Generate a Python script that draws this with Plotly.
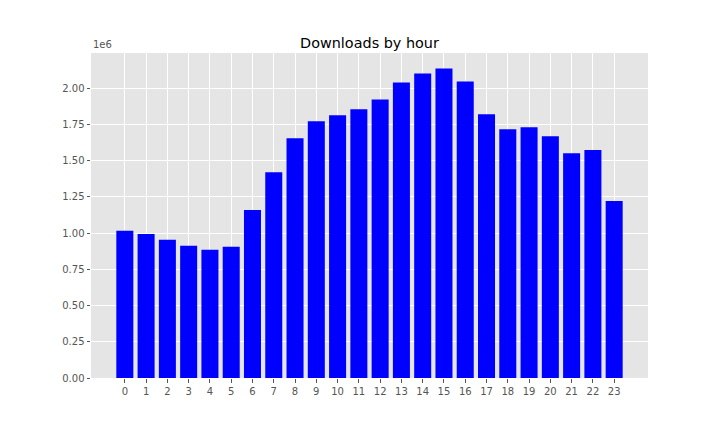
import plotly.graph_objects as go

# downloads per hour of day
hours = list(range(24))
downloads = [1015000, 994000, 953000, 912000, 884000, 905000, 1159000, 1420000,
             1654000, 1771000, 1812000, 1854000, 1922000, 2039000, 2101000, 2135000,
             2046000, 1819000, 1716000, 1730000, 1668000, 1551000, 1572000, 1221000]

y_ticks = [0, 250000, 500000, 750000, 1000000, 1250000, 1500000, 1750000, 2000000]
y_tick_labels = ["0.00", "0.25", "0.50", "0.75", "1.00", "1.25", "1.50", "1.75", "2.00"]

tick_font = dict(family="DejaVu Sans", size=10, color="#555555")

fig = go.Figure(go.Bar(x=hours, y=downloads, marker=dict(color="#0000ff", line=dict(width=0))))

# page puts the plot 8px in from the corner, margins compensate
fig.update_layout(
    width=720, height=432,
    margin=dict(l=83, r=80, t=45, b=62),
    paper_bgcolor="white",
    plot_bgcolor="#E5E5E5",
    bargap=0.2,
    showlegend=False,
    title=dict(text="Downloads by hour", x=0.5, xref="paper", y=1, yref="paper",
               yanchor="bottom", pad=dict(b=5),
               font=dict(family="DejaVu Sans", size=14.4, color="black")),
)

fig.update_xaxes(
    range=[-1.59, 24.59],
    tickmode="array", tickvals=hours, ticktext=[str(h) for h in hours],
    showgrid=True, gridcolor="white", gridwidth=1,
    ticks="outside", ticklen=3.5, tickcolor="#555555", tickwidth=1,
    tickfont=tick_font, zeroline=False, showline=False,
)
fig.update_yaxes(
    range=[0, 2242000],
    tickmode="array", tickvals=y_ticks, ticktext=y_tick_labels,
    showgrid=True, gridcolor="white", gridwidth=1,
    ticks="outside", ticklen=3.5, tickcolor="#555555", tickwidth=1,
    tickfont=tick_font, zeroline=False, showline=False,
)

fig.add_annotation(text="1e6", xref="paper", yref="paper", x=0, y=1,
                   xanchor="left", yanchor="bottom", yshift=1, showarrow=False,
                   font=tick_font)

fig.write_html("out.html")
